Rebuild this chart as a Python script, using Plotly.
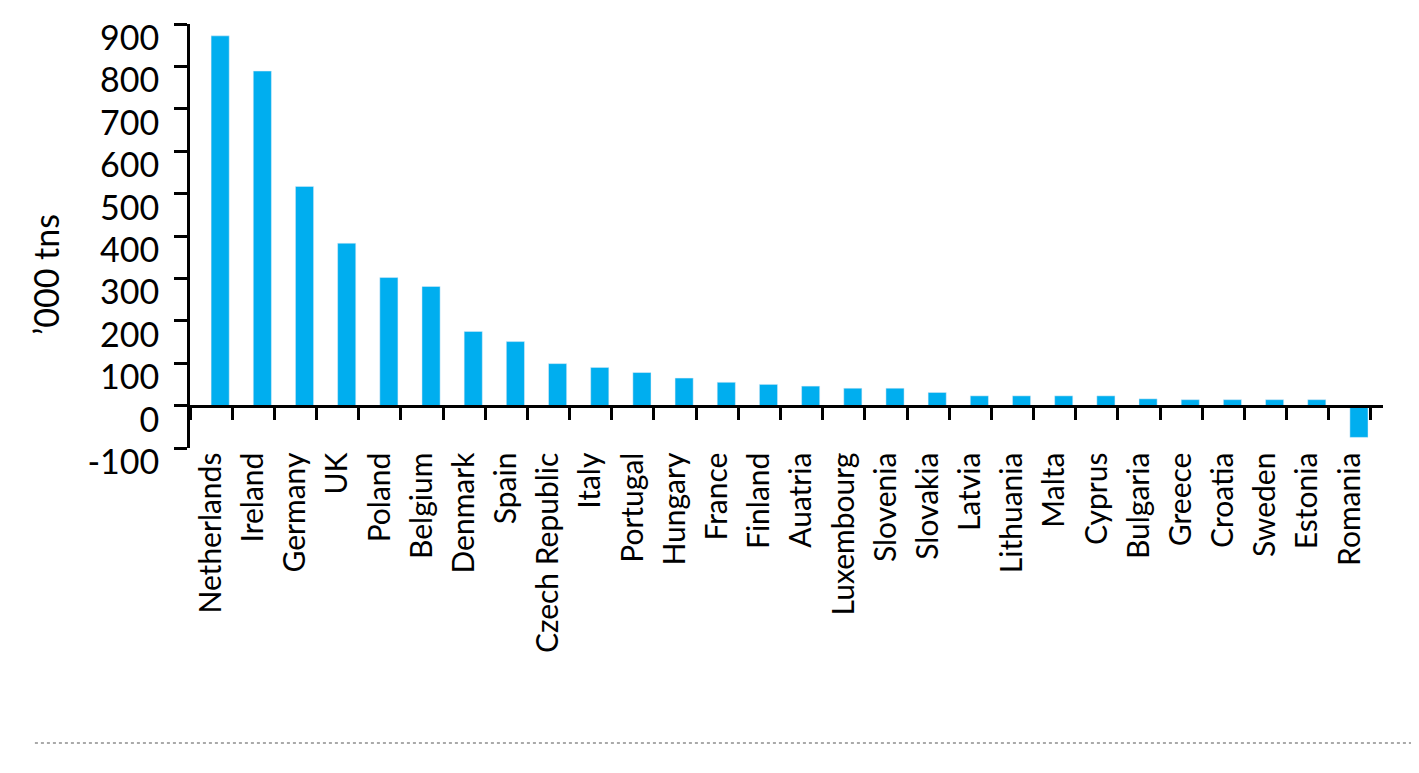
import plotly.graph_objects as go

# values, '000 tonnes
countries = ['Netherlands', 'Ireland', 'Germany', 'UK', 'Poland', 'Belgium',
             'Denmark', 'Spain', 'Czech Republic', 'Italy', 'Portugal',
             'Hungary', 'France', 'Finland', 'Auatria', 'Luxembourg',
             'Slovenia', 'Slovakia', 'Latvia', 'Lithuania', 'Malta', 'Cyprus',
             'Bulgaria', 'Greece', 'Croatia', 'Sweden', 'Estonia', 'Romania']
tonnes = [872, 789, 517, 383, 302, 281,
          175, 151, 99, 90, 78,
          65, 55, 50, 46, 41,
          41, 31, 23, 23, 23, 23,
          16, 14, 14, 14, 14, -75]

y_ticks = [-100, 0, 100, 200, 300, 400, 500, 600, 700, 800, 900]
y_tick_text = ['-100', '0', '100', '200', '300', '400', '500', '600', '700', '800', '900']

FONT = 'Lato'
BLUE = '#00AEEF'

fig = go.Figure()
fig.add_trace(go.Bar(x=countries, y=tonnes, marker_color=BLUE,
                     offset=0, width=0.43, hoverinfo='x+y'))

# margins allow for the 8px body margin of the html page
fig.update_layout(
    width=1419, height=773,
    margin=dict(l=182, r=44, t=16, b=333),
    paper_bgcolor='white', plot_bgcolor='white',
    showlegend=False,
    font=dict(family=FONT, color='black'),
)

# x axis sits on the zero line (10% up the plot area)
fig.update_xaxes(
    type='category', anchor='free', position=0.1,
    range=[-0.5, 27.785],
    showline=True, linecolor='black', linewidth=3,
    ticks='outside', tickson='boundaries', ticklen=12, tickwidth=3, tickcolor='black',
    tickangle=-90, tickfont=dict(size=30, family=FONT),
    ticklabelstandoff=33,
    showgrid=False, zeroline=False, automargin=False,
)

# labels in the original sit a little below their ticks
fig.update_yaxes(
    range=[-100, 900],
    tickvals=y_ticks, ticktext=y_tick_text,
    showline=True, linecolor='black', linewidth=3,
    ticks='outside', ticklen=13, tickwidth=3, tickcolor='black',
    tickfont=dict(size=34, family=FONT),
    ticklabelstandoff=8, ticklabelshift=14, ticklabeloverflow='allow',
    showgrid=False, zeroline=False, automargin=False,
)

fig.add_annotation(text='\u2019000 tns', xref='paper', yref='paper',
                   x=-0.1215, y=0.408, xanchor='center', yanchor='middle',
                   textangle=-90, showarrow=False,
                   font=dict(size=34, family=FONT))

# dotted rule at the bottom
fig.add_shape(type='line', xref='paper', yref='paper',
              x0=-0.13, x1=1.0302, y0=-0.696, y1=-0.696,
              line=dict(color='#aaaaaa', width=2, dash='dot'))

fig.write_html('out.html')
